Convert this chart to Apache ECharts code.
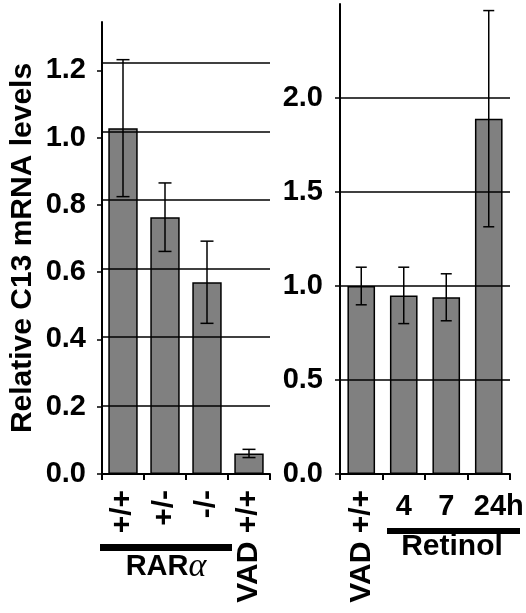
<!DOCTYPE html>
<html>
<head>
<meta charset="utf-8">
<script src="https://cdn.jsdelivr.net/npm/echarts@6/dist/echarts.min.js"></script>
<style>html,body{margin:0;padding:0;background:#fff}#c{width:526px;height:613px}</style>
</head>
<body>
<div id="c"></div>
<script>
// ---- data ----
const leftCats = ['+/+', '+/-', '-/-', 'VAD +/+'];
const leftMeans = [1.01, 0.75, 0.56, 0.06];
const leftErr = [0.20, 0.10, 0.12, 0.012];
const leftTicks = [0, 0.2, 0.4, 0.6, 0.8, 1.0, 1.2];
const leftGrid = [0.2, 0.4, 0.6, 0.8, 1.0, 1.2];

const rightCatsRot = ['VAD +/+', '', '', ''];
const rightCatsFlat = ['', '4', '7', '24h'];
const rightMeans = [1.00, 0.95, 0.94, 1.89];
const rightErr = [0.10, 0.15, 0.125, 0.575];
const rightTicks = [0, 0.5, 1.0, 1.5, 2.0];
const rightGrid = [0.5, 1.0, 1.5, 2.0];

const yTitle = 'Relative C13 mRNA levels';
const groupLeft = 'RAR';
const groupRight = 'Retinol';

// ---- styles ----
const FONT = 'Liberation Sans, Arial, sans-serif';
const BAR = '#808080';

function errData(means, errs) {
  return means.map((m, i) => [i, m, errs[i]]);
}
function errRender(capW) {
  return function (params, api) {
    const x = api.value(0), m = api.value(1), e = api.value(2);
    const t = api.coord([x, m + e]);
    const b = api.coord([x, m - e]);
    const hw = capW / 2;
    const st = { stroke: '#000', lineWidth: 1.5 };
    return {
      type: 'group',
      children: [
        { type: 'line', shape: { x1: t[0], y1: t[1], x2: b[0], y2: b[1] }, style: st },
        { type: 'line', shape: { x1: t[0] - hw, y1: t[1], x2: t[0] + hw, y2: t[1] }, style: st },
        { type: 'line', shape: { x1: b[0] - hw, y1: b[1], x2: b[0] + hw, y2: b[1] }, style: st }
      ]
    };
  };
}
function gridLines(vals) {
  return {
    silent: true, symbol: ['none', 'none'], label: { show: false },
    lineStyle: { color: '#000', width: 1.5, type: 'solid' },
    emphasis: { disabled: true },
    data: vals.map(v => ({ yAxis: v }))
  };
}

const chart = echarts.init(document.getElementById('c'), null, { renderer: 'canvas' });
const axisTxt = { color: '#000', fontFamily: FONT, fontWeight: 'bold', fontSize: 29 };

chart.setOption({
  animation: false,
  backgroundColor: '#fff',
  grid: [
    { left: 102, top: 22, width: 168, height: 452, containLabel: false, outerBoundsMode: 'none' },
    { left: 340, top: 4, width: 170, height: 470, containLabel: false, outerBoundsMode: 'none' }
  ],
  xAxis: [
    {
      type: 'category', gridIndex: 0, position: 'bottom', data: leftCats,
      axisLine: { lineStyle: { color: '#000', width: 2 } },
      axisTick: { show: true, length: 6, lineStyle: { color: '#000', width: 2 } },
      axisLabel: Object.assign({}, axisTxt, { rotate: 90, margin: 16, fontSize: 30, interval: 0 })
    },
    {
      type: 'category', gridIndex: 1, position: 'bottom', data: rightCatsRot,
      axisLine: { lineStyle: { color: '#000', width: 2 } },
      axisTick: { show: true, length: 6, lineStyle: { color: '#000', width: 2 } },
      axisLabel: Object.assign({}, axisTxt, { rotate: 90, margin: 16, fontSize: 30, interval: 0 })
    },
    {
      type: 'category', gridIndex: 1, position: 'bottom', offset: 0,
      data: rightCatsFlat.map((v, i) => i === 3 ? { value: v, textStyle: { padding: [0, 0, 0, 20] } } : v),
      axisLine: { show: false }, axisTick: { show: false },
      axisLabel: Object.assign({}, axisTxt, { margin: 18, fontSize: 29, interval: 0 })
    }
  ],
  yAxis: [
    {
      type: 'value', gridIndex: 0, position: 'left', min: 0, max: 1.32,
      axisLine: { show: true, lineStyle: { color: '#000', width: 2 } },
      axisTick: { show: false }, axisLabel: { show: false }, splitLine: { show: false },
      name: yTitle, nameLocation: 'middle', nameGap: 64, nameRotate: 90,
      nameTextStyle: { color: '#000', fontFamily: FONT, fontWeight: 'bold', fontSize: 30 }
    },
    {
      type: 'value', gridIndex: 0, position: 'left', offset: 0, min: 0, max: 1.344,
      axisLine: { show: false },
      axisTick: { show: true, length: 5, inside: false, customValues: leftTicks, lineStyle: { color: '#000', width: 1.5 } },
      axisLabel: Object.assign({}, axisTxt, { margin: 16, customValues: leftTicks, formatter: v => v.toFixed(1) }),
      splitLine: { show: false }
    },
    {
      type: 'value', gridIndex: 1, position: 'left', min: 0, max: 2.5,
      axisLine: { show: true, lineStyle: { color: '#000', width: 2 } },
      axisTick: { show: true, length: 5, customValues: rightTicks, lineStyle: { color: '#000', width: 1.5 } },
      axisLabel: Object.assign({}, axisTxt, { margin: 17, customValues: rightTicks, formatter: v => v.toFixed(1) }),
      splitLine: { show: false }
    }
  ],
  series: [
    {
      type: 'bar', xAxisIndex: 0, yAxisIndex: 0, data: leftMeans, barWidth: '70%',
      itemStyle: { color: BAR, borderColor: '#000', borderWidth: 1.5 },
      markLine: gridLines(leftGrid), silent: true
    },
    {
      type: 'custom', xAxisIndex: 0, yAxisIndex: 0, data: errData(leftMeans, leftErr),
      encode: { x: 0, y: 1 }, renderItem: errRender(13), z: 10, silent: true
    },
    {
      type: 'bar', xAxisIndex: 1, yAxisIndex: 2, data: rightMeans, barWidth: '65%',
      itemStyle: { color: BAR, borderColor: '#000', borderWidth: 1.5 },
      markLine: gridLines(rightGrid), silent: true
    },
    {
      type: 'custom', xAxisIndex: 1, yAxisIndex: 2, data: errData(rightMeans, rightErr),
      encode: { x: 0, y: 1 }, renderItem: errRender(11), z: 10, silent: true
    }
  ],
  graphic: [
    { type: 'rect', shape: { x: 100, y: 544, width: 132, height: 7 }, style: { fill: '#000' } },
    {
      type: 'text', x: 166, y: 567,
      style: {
        text: '{a|' + groupLeft + '}{b|α}', align: 'center', verticalAlign: 'middle',
        rich: {
          a: { fontFamily: FONT, fontWeight: 'bold', fontSize: 29, fill: '#000' },
          b: { fontFamily: 'Liberation Serif, Times New Roman, serif', fontStyle: 'italic', fontSize: 34, fill: '#000' }
        }
      }
    },
    { type: 'rect', shape: { x: 387, y: 528, width: 133, height: 6 }, style: { fill: '#000' } },
    {
      type: 'text', x: 452, y: 547,
      style: { text: groupRight, align: 'center', verticalAlign: 'middle', font: 'bold 30px ' + FONT, fill: '#000' }
    }
  ]
});
</script>
</body>
</html>
